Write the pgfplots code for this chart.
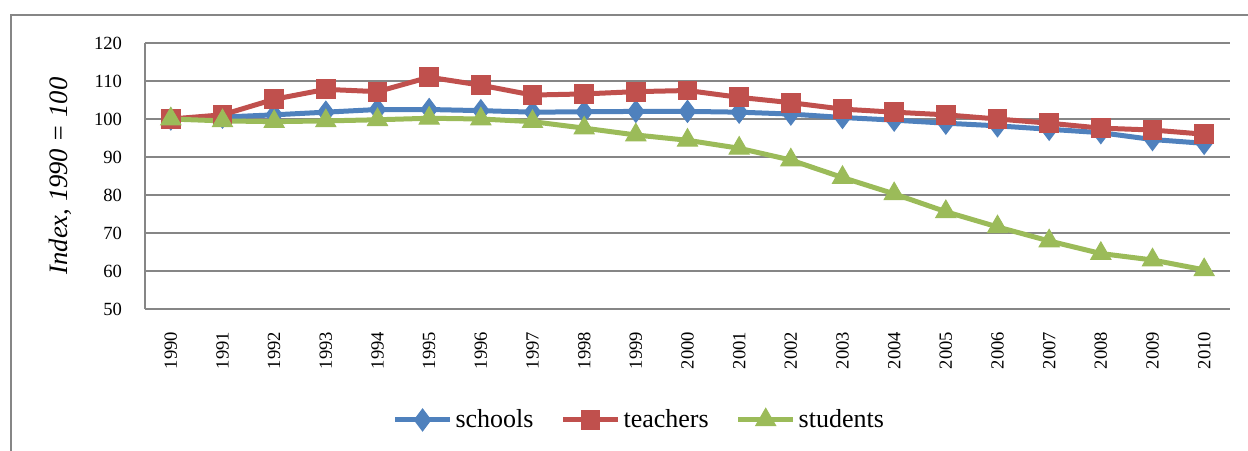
\documentclass[border=0pt]{standalone}
\usepackage{fontspec}
\setmainfont{Liberation Serif}
\usepackage{pgfplots}
\pgfplotsset{compat=1.18}
\definecolor{cblue}{HTML}{4F81BD}
\definecolor{cred}{HTML}{C0504D}
\definecolor{cgreen}{HTML}{9BBB59}
\definecolor{cgrid}{HTML}{868686}
\begin{document}
\begin{tikzpicture}
\useasboundingbox (-72.5bp,-71bp) rectangle (551.5bp,154.5bp);
\draw[cgrid, line width=1bp] (-67bp,-80bp) -- (-67bp,147bp) -- (560bp,147bp);
\begin{axis}[
  scale only axis, width=542.5bp, height=133bp,
  xmin=-0.5, xmax=20.5, ymin=50, ymax=120,
  ytick={50,60,70,80,90,100,110,120},
  xtick={0,1,2,3,4,5,6,7,8,9,10,11,12,13,14,15,16,17,18,19,20},
  xticklabels={1990,1991,1992,1993,1994,1995,1996,1997,1998,1999,2000,2001,2002,2003,2004,2005,2006,2007,2008,2009,2010},
  /pgf/number format/assume math mode=true,
  major tick length=0pt,
  axis x line*=bottom, axis y line*=left,
  axis line style={cgrid, line width=1bp, -},
  ymajorgrids, grid style={cgrid, line width=1bp},
  tick label style={font=\fontsize{9.3bp}{11bp}\selectfont},
  xticklabel style={rotate=90, anchor=east},
  xticklabel shift=8bp, yticklabel shift=8bp,
  ylabel={\itshape Index, 1990 = 100},
  ylabel style={font=\fontsize{13.3bp}{15bp}\selectfont, at={(axis description cs:-0.0783,0.5)}, anchor=center},
  legend columns=3,
  legend style={draw=none, fill=none, at={(0.456,-0.417)}, anchor=center,
    font=\fontsize{13bp}{15bp}\selectfont,
    nodes={inner xsep=1.5bp},
    /tikz/every even column/.append style={column sep=12bp}},
  legend image code/.code={\draw[mark repeat=2,mark phase=2] plot coordinates {(0bp,0bp) (13.75bp,0bp) (27.5bp,0bp)};},
  every axis plot/.append style={line width=2.5bp},
]
\addplot[cblue, mark=diamond*, mark size=5.5bp, mark options={fill=cblue, line width=0.5bp}] coordinates {
(0,100) (1,100.5) (2,101.1) (3,101.8) (4,102.5) (5,102.5) (6,102.2) (7,101.8) (8,101.9) (9,102) (10,102) (11,101.8) (12,101.3) (13,100.4) (14,99.7) (15,98.9) (16,98.2) (17,97.3) (18,96.4) (19,94.6) (20,93.6)};
\addlegendentry{schools}
\addplot[cred, mark=square*, mark size=4.7bp, mark options={fill=cred, line width=0.5bp}] coordinates {
(0,100) (1,101.1) (2,105.2) (3,107.8) (4,107.2) (5,111) (6,108.9) (7,106.3) (8,106.6) (9,107.2) (10,107.5) (11,105.7) (12,104.3) (13,102.6) (14,101.8) (15,101.1) (16,100) (17,98.9) (18,97.6) (19,97.1) (20,96)};
\addlegendentry{teachers}
\addplot[cgreen, mark=triangle*, mark size=5.8bp, mark options={fill=cgreen, line width=0.5bp}] coordinates {
(0,100) (1,99.5) (2,99.3) (3,99.5) (4,99.8) (5,100.2) (6,100) (7,99.3) (8,97.6) (9,95.8) (10,94.4) (11,92.3) (12,89.2) (13,84.6) (14,80.3) (15,75.6) (16,71.6) (17,67.9) (18,64.6) (19,62.9) (20,60.3)};
\addlegendentry{students}
\end{axis}
\end{tikzpicture}
\end{document}
